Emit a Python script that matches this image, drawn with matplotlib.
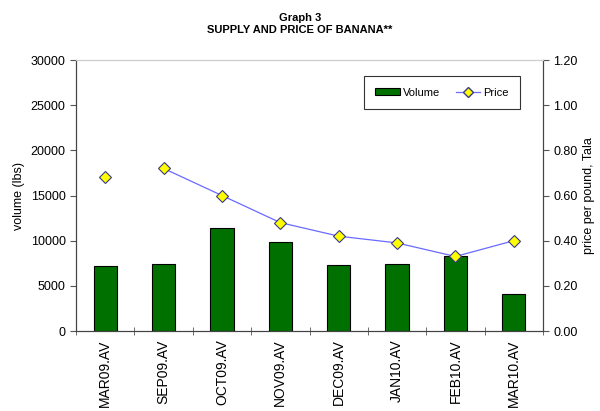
import matplotlib.pyplot as plt
import numpy as np
from matplotlib.lines import Line2D
from matplotlib.patches import Patch

plt.rcParams['font.family'] = ['Liberation Sans', 'DejaVu Sans']

months = ["MAR09.AV", "SEP09.AV", "OCT09.AV", "NOV09.AV",
          "DEC09.AV", "JAN10.AV", "FEB10.AV", "MAR10.AV"]
volume = [7250, 7450, 11400, 9850, 7300, 7450, 8300, 4100]
price = [0.68, 0.72, 0.60, 0.48, 0.42, 0.39, 0.33, 0.40]

x = np.arange(len(months))

fig = plt.figure(figsize=(6, 4.11), dpi=100)
ax = fig.add_axes([0.1267, 0.1946, 0.7783, 0.6594])
ax2 = ax.twinx()

ax.bar(x, volume, width=0.4, color='#007000', edgecolor='black',
       linewidth=0.8, label='Volume', zorder=2)

# line breaks between MAR09 and SEP09 (months missing in between)
ax2.plot(x[1:], price[1:], color='#6a6aff', linewidth=0.9, zorder=3)
ax2.plot(x, price, linestyle='none', marker='D', markersize=6,
         markerfacecolor='#ffff00', markeredgecolor='#3a3a8a',
         markeredgewidth=0.8, zorder=4)

ax.set_xlim(-0.5, len(months) - 0.5)
ax.set_ylim(0, 30000)
ax.set_yticks(np.arange(0, 30001, 5000))
ax2.set_ylim(0, 1.2)
ax2.set_yticks(np.arange(0, 1.21, 0.2))
ax2.set_yticklabels([f"{v:.2f}" for v in np.arange(0, 1.21, 0.2)])

ax.set_xticks(x)
ax.set_xticklabels(months, rotation=90, fontsize=10)
ax.tick_params(axis='x', length=0, pad=6)
ax.set_xticks(np.arange(-0.5, len(months), 1), minor=True)
ax.tick_params(axis='x', which='minor', direction='inout', length=6, color='#555555')
ax.tick_params(axis='y', labelsize=9, length=4, color='#555555')
ax2.tick_params(axis='y', labelsize=9, length=4, color='#555555')

for a in (ax, ax2):
    a.spines['top'].set_color('#cccccc')
    for s in ('left', 'right', 'bottom'):
        a.spines[s].set_color('#444444')

ax.set_ylabel("volume (lbs)", fontsize=9)
ax2.set_ylabel("price per pound, Tala", fontsize=9)

fig.text(0.5, 0.942, "Graph 3\nSUPPLY AND PRICE OF BANANA**", ha='center',
         va='center', fontsize=8, fontweight='bold', linespacing=1.25)

handles = [Patch(facecolor='#007000', edgecolor='black', linewidth=0.8),
           Line2D([], [], color='#6a6aff', linewidth=0.9, marker='D', markersize=5,
                  markerfacecolor='#ffff00', markeredgecolor='#3a3a8a')]
leg = ax2.legend(handles, ['Volume', 'Price'], loc='upper right',
                 bbox_to_anchor=(0.963, 0.96), ncol=2, fontsize=8,
                 frameon=True, fancybox=False, edgecolor='black',
                 handlelength=2.2, handleheight=0.6, columnspacing=1.4,
                 borderpad=1.0, handletextpad=0.3)
leg.get_frame().set_linewidth(0.8)

fig.savefig("out.png", dpi=100)
